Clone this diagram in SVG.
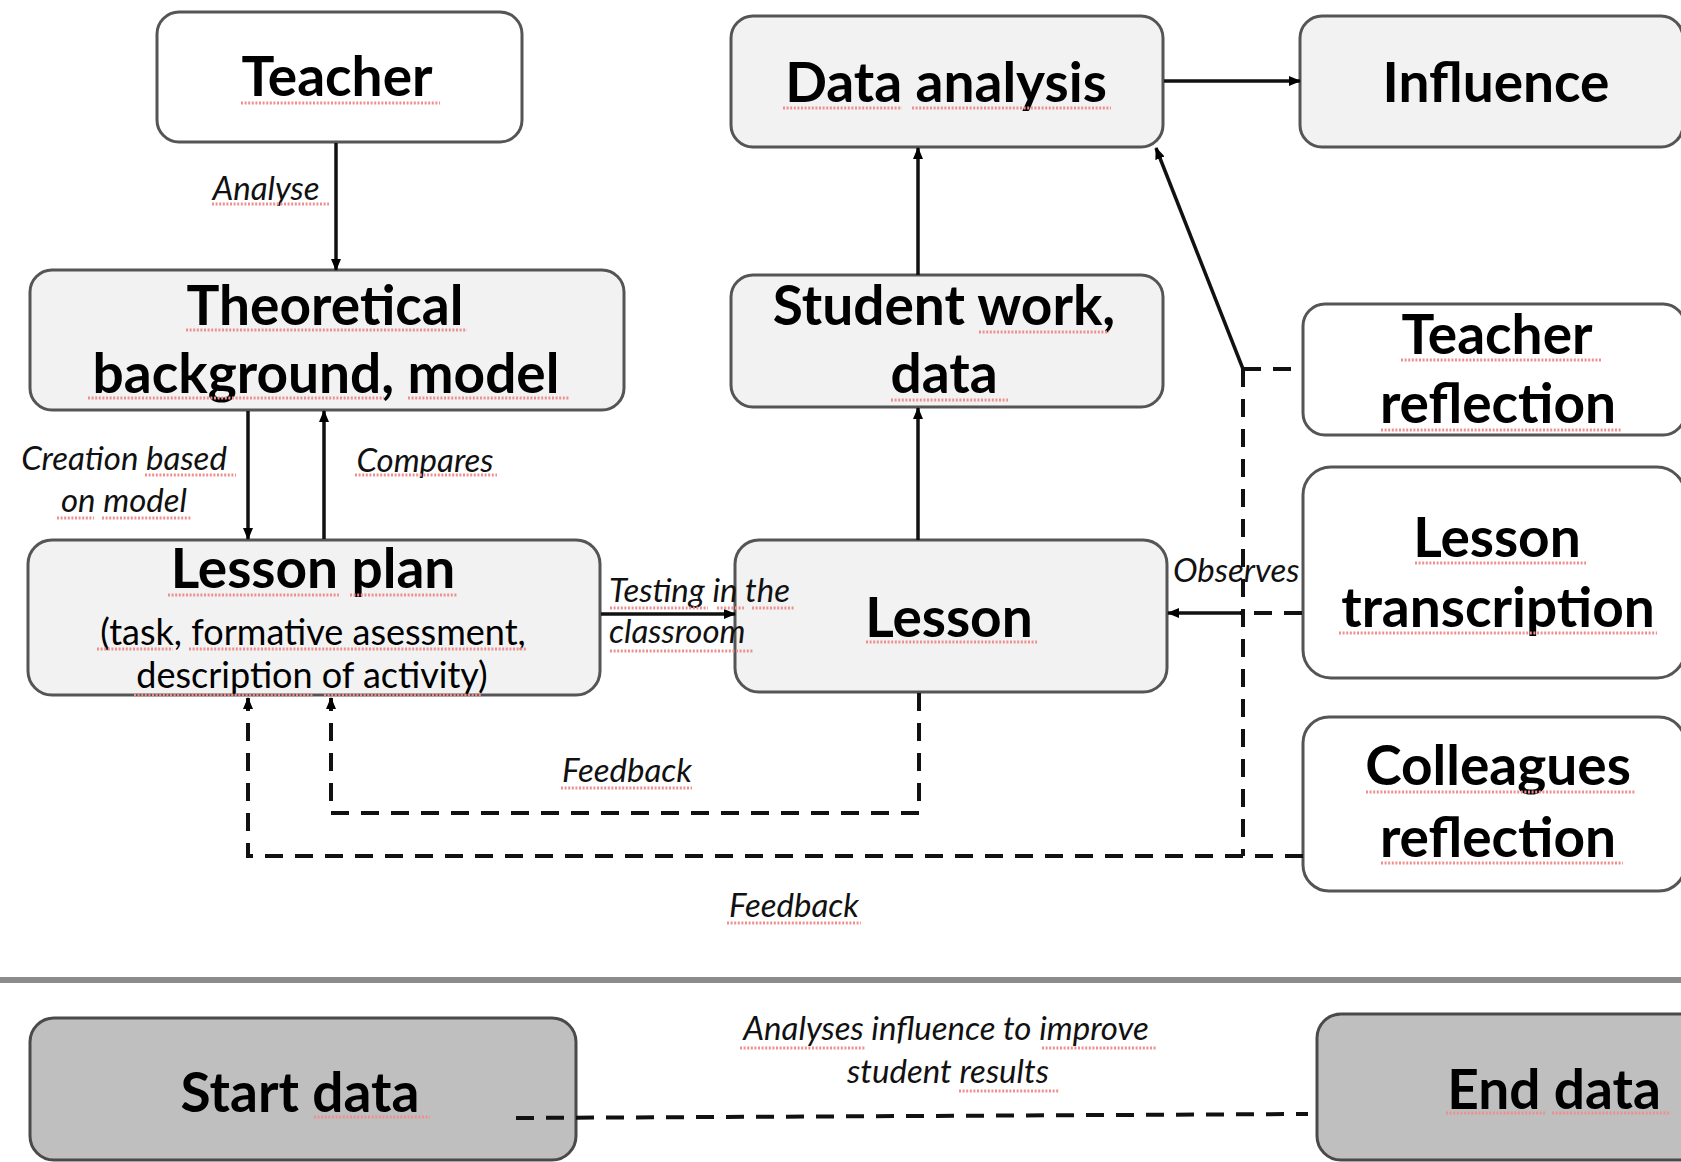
<svg xmlns="http://www.w3.org/2000/svg" width="1681" height="1162" viewBox="0 0 1681 1162">
<defs>
<marker id="ah" markerUnits="userSpaceOnUse" markerWidth="12" markerHeight="10" refX="11" refY="5" orient="auto">
<path d="M0,0 L12,5 L0,10 z" fill="#000"/>
</marker>
<style>
.box{stroke:#555;stroke-width:3}
.g{fill:#f2f2f2}
.w{fill:#ffffff}
.d{fill:#bfbfbf;stroke:#4a4a4a}
.t{font-family:Lato,"Liberation Sans",Arial,sans-serif;font-weight:bold;font-size:55px;fill:#000;text-anchor:middle}
.s{font-family:Lato,"Liberation Sans",Arial,sans-serif;font-size:36px;fill:#000;text-anchor:middle}
.l{font-family:Lato,"Liberation Sans",Arial,sans-serif;font-style:italic;font-size:33px;fill:#111}
.c{text-anchor:middle}
.solid{fill:none;stroke:#111;stroke-width:3.5}
.dash{fill:none;stroke:#111;stroke-width:4;stroke-dasharray:18 12}
.sq{fill:none;stroke:#ee9090;stroke-width:3;stroke-dasharray:2 1.6}
</style>
</defs>
<rect width="1681" height="1162" fill="#fff"/>
<line x1="0" y1="980" x2="1681" y2="980" stroke="#8c8c8c" stroke-width="6"/>

<g id="teacher"><rect class="box w" x="157" y="12" width="365" height="130" rx="22"/><text class="t" x="337" y="96">Teacher</text></g>
<g id="theory"><rect class="box g" x="30" y="270" width="594" height="140" rx="22"/><text class="t" x="325" y="325">Theoretical</text><text class="t" x="326" y="393">background, model</text></g>
<g id="lessonplan"><rect class="box g" x="28" y="540" width="572" height="155" rx="24"/><text class="t" x="313" y="588">Lesson plan</text><text class="s" x="313" y="645">(task, formative asessment,</text><text class="s" x="312" y="688">description of activity)</text></g>
<g id="dataanalysis"><rect class="box g" x="731" y="16" width="432" height="131" rx="22"/><text class="t" x="946" y="102">Data analysis</text></g>
<g id="influence"><rect class="box g" x="1300" y="16" width="383" height="131" rx="22"/><text class="t" x="1496" y="102">Influence</text></g>
<g id="studentwork"><rect class="box g" x="731" y="275" width="432" height="132" rx="22"/><text class="t" x="944" y="325">Student work,</text><text class="t" x="944" y="393">data</text></g>
<g id="lesson"><rect class="box g" x="735" y="540" width="432" height="152" rx="24"/><text class="t" x="949" y="637">Lesson</text></g>
<g id="teacherreflection"><rect class="box w" x="1303" y="304" width="382" height="131" rx="22"/><text class="t" x="1497" y="354">Teacher</text><text class="t" x="1498" y="423">reflection</text></g>
<g id="transcription"><rect class="box w" x="1303" y="467" width="382" height="211" rx="28"/><text class="t" x="1497" y="557">Lesson</text><text class="t" x="1498" y="627">transcription</text></g>
<g id="colleagues"><rect class="box w" x="1303" y="717" width="382" height="174" rx="26"/><text class="t" x="1498" y="785">Colleagues</text><text class="t" x="1498" y="857">reflection</text></g>
<g id="startdata"><rect class="box d" x="30" y="1018" width="546" height="142" rx="24"/><text class="t" x="300" y="1112">Start data</text></g>
<g id="enddata"><rect class="box d" x="1317" y="1014" width="400" height="146" rx="24"/><text class="t" x="1554" y="1109">End data</text></g>

<g id="connectors">
<path class="solid" d="M336,143 L336,270" marker-end="url(#ah)"/>
<path class="solid" d="M248,411 L248,539" marker-end="url(#ah)"/>
<path class="solid" d="M324,539 L324,411" marker-end="url(#ah)"/>
<path class="solid" d="M601,614 L735,614" stroke-width="5" marker-end="url(#ah)"/>
<path class="solid" d="M918,540 L918,408" marker-end="url(#ah)"/>
<path class="solid" d="M918,275 L918,148" marker-end="url(#ah)"/>
<path class="solid" d="M1164,81 L1300,81" marker-end="url(#ah)"/>
<path class="solid" d="M1243,369 L1156,148" marker-end="url(#ah)"/>
<path class="dash" d="M1243,369 L1302,369" stroke-dasharray="12 10"/>
<path class="dash" d="M1243,369 L1243,856"/>
<path class="dash" d="M1303,856 L248,856 L248,698" marker-end="url(#ah)"/>
<path class="dash" d="M919,693 L919,813 L331,813 L331,698" marker-end="url(#ah)"/>
<path class="dash" d="M1302,613 L1240,613" stroke-dasharray="14 10"/>
<path class="solid" d="M1240,613 L1168,613" stroke-width="4" marker-end="url(#ah)"/>
<path class="dash" d="M516,1118 L1308,1114" stroke-width="5" stroke-dasharray="14 10" stroke="#333"/>
</g>

<g id="labels">
<text class="l c" x="266" y="200">Analyse</text>
<text class="l c" x="124" y="470">Creation based</text>
<text class="l c" x="124" y="512">on model</text>
<text class="l c" x="425" y="472">Compares</text>
<text class="l" x="609" y="602">Testing in the</text>
<text class="l" x="609" y="643">classroom</text>
<text class="l c" x="627" y="782">Feedback</text>
<text class="l" x="1173" y="582">Observes</text>
<text class="l c" x="794" y="917">Feedback</text>
<text class="l c" x="946" y="1040">Analyses influence to improve</text>
<text class="l c" x="948" y="1083">student results</text>
</g>

<g id="spellcheck">
<path class="sq" d="M241,103H440 M186,330H467 M88,398H384 M408,398H569 M212,204H329 M168,595H339 M350,595H457 M97,649H173 M189,649H526 M134,695H314 M324,695H482 M145,475H236 M57,518H94 M102,518H191 M355,475H497 M610,608H708 M717,608H744 M752,608H795 M610,651H754 M561,788H692 M866,642H1037 M783,108H902 M912,108H1111 M979,332H1109 M891,400H1008 M1401,360H1601 M1381,430H1622 M1415,563H1586 M1339,633H1657 M1366,792H1635 M1381,863H1623 M727,923H861 M740,1048H866 M1042,1048H1157 M959,1091H1059 M314,1117H430 M1446,1113H1546 M1552,1113H1670"/>
</g>
</svg>
